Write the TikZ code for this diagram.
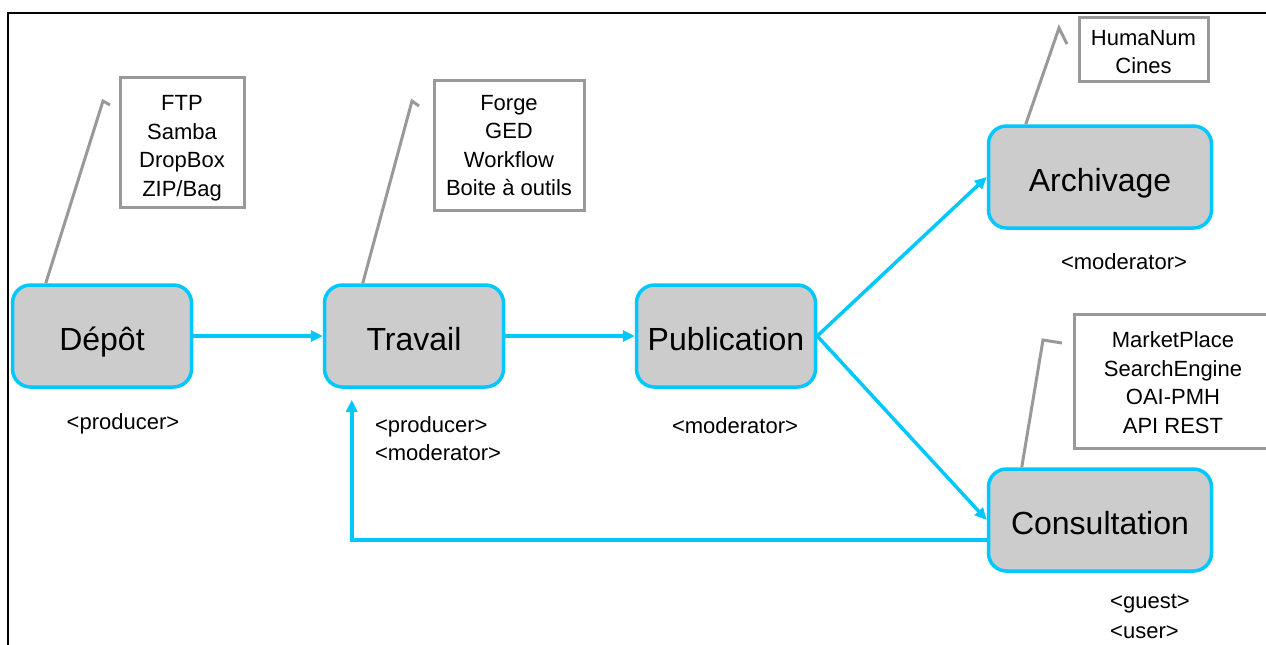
\documentclass[tikz,border=0pt]{standalone}
\usepackage{fontspec}
\setmainfont{Liberation Sans}
\usepackage{tikz}
\usepackage{xcolor}
\usetikzlibrary{
    arrows.meta,
    shapes,
    calc,
    positioning
}
\definecolor{flowcyan}{HTML}{00C8FF}
\definecolor{stagegray}{HTML}{CCCCCC}
\definecolor{toolgray}{HTML}{999999}
\newcommand{\toollist}[2][2pt]{\raisebox{-#1}[\height][\depth]{\begin{tabular}{@{}c@{}}#2\end{tabular}}}
\tikzset{
    stage/.style={draw=flowcyan, fill=stagegray, line width=1.75pt, rounded corners=9pt,
        minimum width=89.5pt, minimum height=51pt, inner sep=0pt,
        text height=14pt, text depth=0pt,
        font=\fontsize{16}{19}\selectfont},
    widestage/.style={stage, minimum width=111.5pt},
    toolbox/.style={draw=toolgray, line width=1.5pt, inner sep=0pt,
        font=\fontsize{11}{14.25}\selectfont},
    role/.style={align=left, inner sep=0pt, font=\fontsize{11}{14}\selectfont},
    flow/.style={draw=flowcyan, line width=1.75pt, -{Triangle[length=6pt,width=5.5pt]}},
    callout/.style={draw=toolgray, line width=1.5pt}
}

\begin{document}
\begin{tikzpicture}[x=0.5pt, y=-0.5pt]
                            \useasboundingbox (0, 0) rectangle (1266, 644);
                            \draw[line width=0.8pt] (8, 660) -- (8, 13) -- (1280, 13);
                            \node[stage] (depot) at (102, 336) {Dépôt};
                            \node[stage] (travail) at (414, 336) {Travail};
                            \node[stage] (publication) at (726, 336) {Publication};
                            \node[widestage] (archivage) at (1100, 177) {Archivage};
                            \node[widestage] (consultation) at (1100, 520) {Consultation};
                            \foreach \from/\to in {depot/travail, travail/publication, publication/archivage, publication/consultation} {
                                \draw[flow] (\from.east) -- (\to.west);
                            }
                            \draw[flow] ([yshift=-10pt]consultation.west) -| ([xshift=14.5pt, yshift=-5.5pt]travail.south west);
                            \node[toolbox, minimum width=62pt, minimum height=65pt] (depotTools) at (182, 142) {\toollist[3pt]{FTP\\Samba\\DropBox\\ZIP/Bag}};
                            \node[toolbox, minimum width=75pt, minimum height=65pt] (travailTools) at (509, 145) {\toollist[1.25pt]{Forge\\GED\\Workflow\\Boite à outils}};
                            \node[toolbox, minimum width=64.5pt, minimum height=32pt] (archivageTools) at (1143.5, 49) {\toollist[2.5pt]{HumaNum\\Cines}};
                            \node[toolbox, minimum width=99pt, minimum height=67pt] (consultationTools) at (1173, 381) {\toollist{MarketPlace\\SearchEngine\\OAI-PMH\\API REST}};
                            \draw[callout] ([xshift=17.5pt]depot.north west) -- (103, 101) -- (110, 105);
                            \draw[callout] ([xshift=20pt]travail.north west) -- (412, 101) -- (419, 106);
                            \draw[callout] ([xshift=19.5pt]archivage.north west) -- (1059, 28) -- (1067, 44);
                            \draw[callout] ([xshift=17.5pt]consultation.north west) -- (1043, 340) -- (1062, 343);
                            \node[role] (depotRole) at (123, 424) {<producer>};
                            \node[role] (travailRole) at (438, 439) {<producer>\\<moderator>};
                            \node[role] (publicationRole) at (735, 426) {<moderator>};
                            \node[role] (archivageRole) at (1124, 262) {<moderator>};
                            \node[role, font=\fontsize{11}{15}\selectfont] (consultationRole) at (1150, 616) {<guest>\\<user>};
                        \end{tikzpicture}
\end{document}
